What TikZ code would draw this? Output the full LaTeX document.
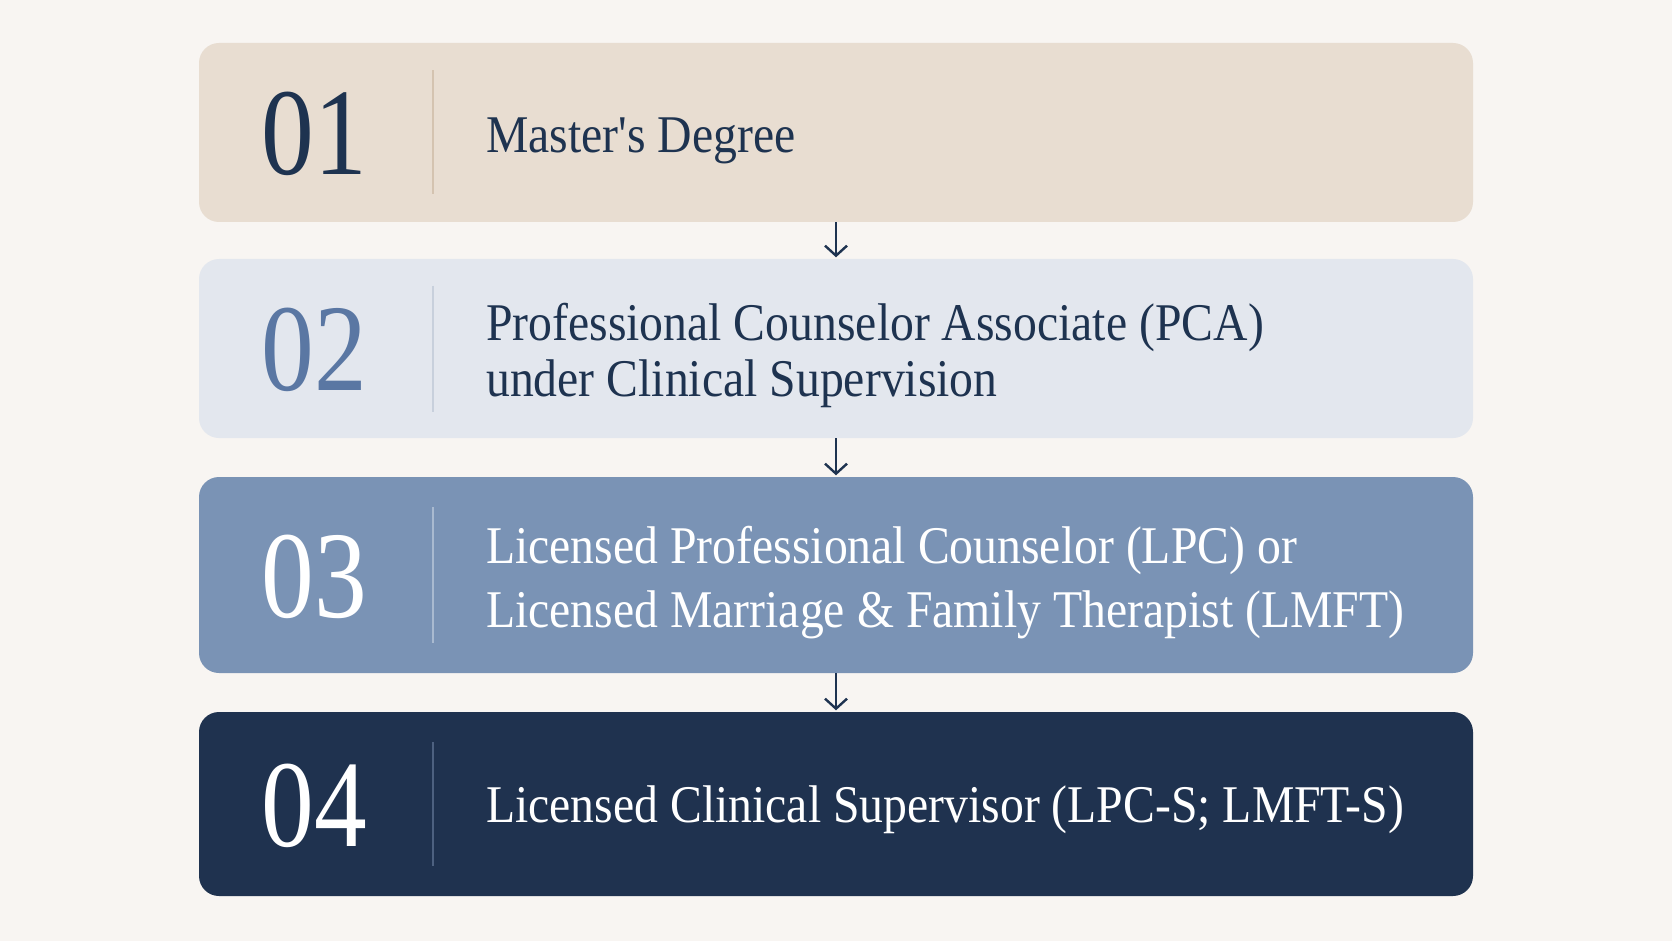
\documentclass[tikz,border=0pt]{standalone}
\usepackage{fontspec}
\setmainfont[FakeStretch=0.9, Ligatures=TeXOff]{Liberation Serif}
\newfontfamily\numfont[FakeStretch=0.85]{Liberation Serif}
\usetikzlibrary{arrows.meta}
\definecolor{bg}{HTML}{F8F5F2}
\definecolor{navy}{HTML}{1E3350}
\definecolor{boxa}{HTML}{E8DDD1}
\definecolor{boxb}{HTML}{E3E7EE}
\definecolor{boxc}{HTML}{7A93B5}
\definecolor{boxd}{HTML}{1F324F}
\definecolor{numb}{HTML}{5A77A3}
\definecolor{diva}{HTML}{D4C3B0}
\definecolor{divb}{HTML}{C8D0DC}
\definecolor{divc}{HTML}{A9BAD0}
\definecolor{divd}{HTML}{4D6180}
\tikzset{
  stepbox/.style={rounded corners=20pt, minimum width=1274pt, inner sep=0pt, draw=none},
  numtxt/.style={anchor=base, inner sep=0pt, font=\numfont\fontsize{124}{124}\selectfont},
  bodytxt/.style={anchor=base west, inner sep=0pt, font=\fontsize{53}{60}\selectfont},
  divline/.style={line width=1.2pt},
  flowarrow/.style={draw=navy, line width=2.4pt, -{Straight Barb[length=10pt, width=22pt, line width=2.4pt]}, shorten >=1.5pt}
}
\begin{document}
\begin{tikzpicture}[x=1pt,y=-1pt]
\fill[bg] (0,0) rectangle (1672,941);
\useasboundingbox (0,0) rectangle (1672,941);
% boxes
\node[stepbox, fill=boxa, minimum height=179pt] (b1) at (836,132.5) {};
\node[stepbox, fill=boxb, minimum height=179pt] (b2) at (836,348.5) {};
\node[stepbox, fill=boxc, minimum height=196pt] (b3) at (836,575) {};
\node[stepbox, fill=boxd, minimum height=184pt] (b4) at (836,804) {};
% dividers
\draw[divline, diva] (433,70.5) -- (433,194.5);
\draw[divline, divb] (433,285.5) -- (433,411.5);
\draw[divline, divc] (433,507) -- (433,643);
\draw[divline, divd] (433,742) -- (433,866);
% numbers
\node[numtxt, text=navy] (n1) at (314,174.5) {01};
\node[numtxt, text=numb] (n2) at (314,390.5) {02};
\node[numtxt, text=white] (n3) at (314,617) {03};
\node[numtxt, text=white] (n4) at (314,846) {04};
% texts
\node[bodytxt, text=navy] (t1) at (486,153) {Master's Degree};
\node[bodytxt, text=navy] (t2a) at (486,340) {Professional Counselor Associate (PCA)};
\node[bodytxt, text=navy] (t2b) at (486,396) {under Clinical Supervision};
\node[bodytxt, text=white] (t3a) at (486,563) {Licensed Professional Counselor (LPC) or};
\node[bodytxt, text=white] (t3b) at (486,627) {Licensed Marriage \& Family Therapist (LMFT)};
\node[bodytxt, text=white] (t4) at (486,822) {Licensed Clinical Supervisor (LPC-S; LMFT-S)};
% arrows
\draw[flowarrow] (b1.south) -- (b2.north);
\draw[flowarrow] (b2.south) -- (b3.north);
\draw[flowarrow] (b3.south) -- (b4.north);
\end{tikzpicture}
\end{document}
